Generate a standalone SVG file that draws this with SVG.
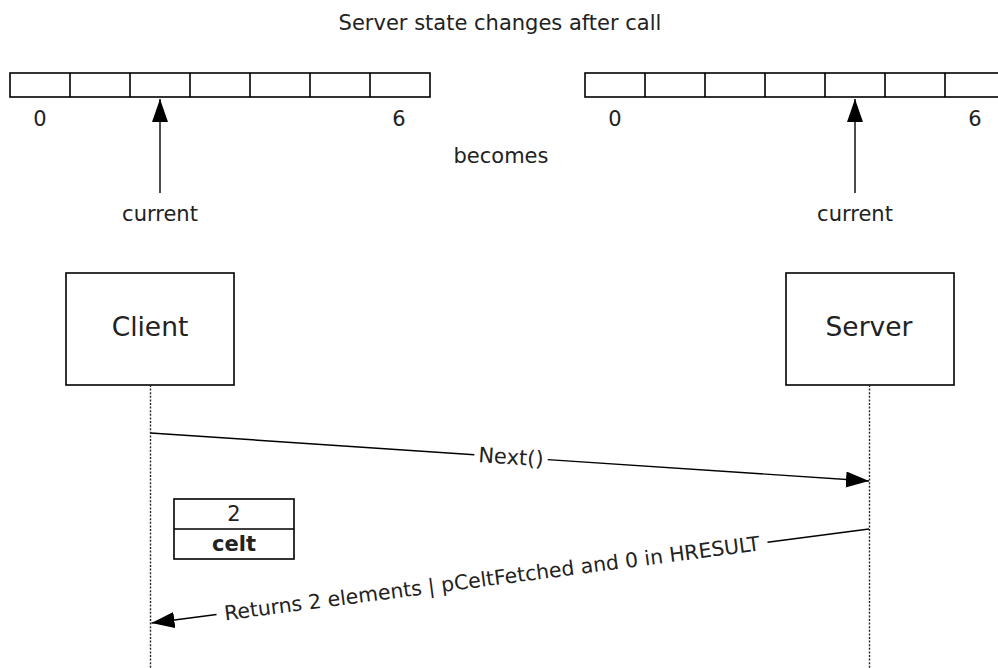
<svg xmlns="http://www.w3.org/2000/svg" width="998" height="668" viewBox="0 0 998 668">
  <style>
    text { font-family: "DejaVu Sans", Verdana, sans-serif; fill: #222; }
    .lbl { font-size: 21px; }
    .rl { font-size: 20.4px; }
    .big { font-size: 26.5px; }
    .box { fill: #fff; stroke: #000; stroke-width: 1.6; }
    .cell { fill: none; stroke: #000; stroke-width: 1.6; }
    .ln { fill: none; stroke: #000; stroke-width: 1.4; }
    .life { fill: none; stroke: #222; stroke-width: 1.4; stroke-dasharray: 2 1.6; }
  </style>
  <defs>
    <marker id="ah" markerUnits="userSpaceOnUse" markerWidth="24" markerHeight="17" refX="23" refY="8" orient="auto">
      <path d="M0,0 L23,8 L0,16 z" fill="#000"/>
    </marker>
  </defs>
  <rect width="998" height="668" fill="#fff"/>

  <text class="lbl" x="500" y="30" text-anchor="middle">Server state changes after call</text>

  <g id="array-before">
    <rect class="cell" x="10" y="73" width="420" height="24"/>
    <path class="cell" d="M70,73V97 M130,73V97 M190,73V97 M250,73V97 M310,73V97 M370,73V97"/>
    <text class="lbl" x="40" y="126" text-anchor="middle">0</text>
    <text class="lbl" x="399" y="126" text-anchor="middle">6</text>
  </g>

  <g id="array-after">
    <rect class="cell" x="585" y="73" width="420" height="24"/>
    <path class="cell" d="M645,73V97 M705,73V97 M765,73V97 M825,73V97 M885,73V97 M945,73V97"/>
    <text class="lbl" x="615" y="126" text-anchor="middle">0</text>
    <text class="lbl" x="975" y="126" text-anchor="middle">6</text>
  </g>

  <text class="lbl" x="501" y="163" text-anchor="middle">becomes</text>

  <g id="current-before">
    <text class="lbl" x="160" y="221" text-anchor="middle">current</text>
  </g>
  <g id="current-after">
    <text class="lbl" x="855" y="221" text-anchor="middle">current</text>
  </g>

  <g id="client">
    <rect class="box" x="66" y="273" width="168" height="112"/>
    <text class="big" x="150" y="336" text-anchor="middle">Client</text>
  </g>

  <g id="server">
    <rect class="box" x="786" y="273" width="168" height="112"/>
    <text class="big" x="869" y="336" text-anchor="middle">Server</text>
  </g>

  <g id="celt">
    <rect class="box" x="174" y="499" width="120" height="60"/>
    <line class="cell" x1="174" y1="529" x2="294" y2="529"/>
    <text class="lbl" x="234" y="521" text-anchor="middle">2</text>
    <text class="lbl" x="234" y="551" text-anchor="middle" font-weight="bold">celt</text>
  </g>

  <g id="connectors">
    <line class="ln" x1="160" y1="193" x2="160" y2="99" marker-end="url(#ah)"/>
    <line class="ln" x1="855" y1="193" x2="855" y2="99" marker-end="url(#ah)"/>

    <line class="life" x1="150.5" y1="385" x2="150.5" y2="668"/>
    <line class="life" x1="869.5" y1="385" x2="869.5" y2="668"/>

    <line class="ln" x1="150.5" y1="433" x2="474.3" y2="454.7"/>
    <line class="ln" x1="547.7" y1="459.6" x2="869" y2="481" marker-end="url(#ah)"/>
    <text class="lbl" x="511" y="457.2" text-anchor="middle" dominant-baseline="central" transform="rotate(3.82 511 457.2)">Next()</text>

    <line class="ln" x1="869" y1="529" x2="767.5" y2="542.3"/>
    <line class="ln" x1="216.5" y1="614.5" x2="151.5" y2="623" marker-end="url(#ah)"/>
    <text class="rl" x="492" y="578.4" text-anchor="middle" dominant-baseline="central" transform="rotate(-7.46 492 578.4)">Returns 2 elements | pCeltFetched and 0 in HRESULT</text>
  </g>
</svg>
